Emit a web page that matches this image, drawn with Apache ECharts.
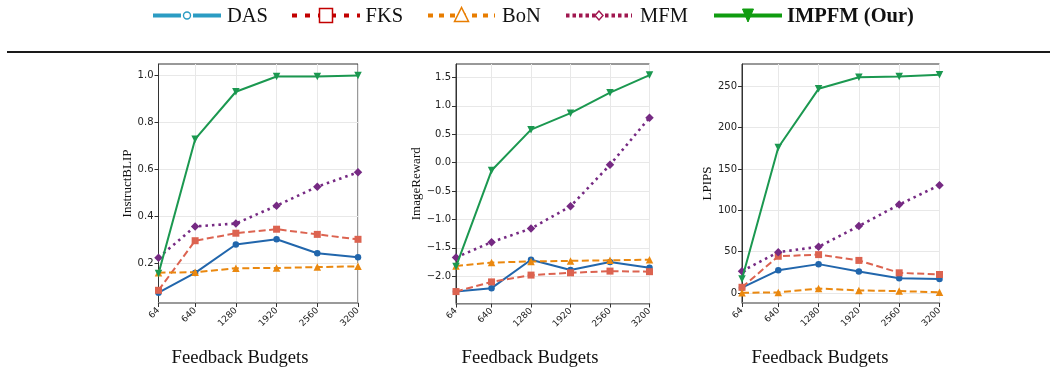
<!DOCTYPE html>
<html>
<head>
<meta charset="utf-8">
<script src="https://cdn.jsdelivr.net/npm/echarts@6/dist/echarts.min.js"></script>
<style>
html,body{margin:0;padding:0;background:#fff;}
#main{width:1057px;height:371px;}
</style>
</head>
<body>
<div id="main"></div>
<script>
// ---------- data ----------
var budgets = [64, 640, 1280, 1920, 2560, 3200];
var xTickLabels = ['64', '640', '1280', '1920', '2560', '3200'];
var methodNames = ['DAS', 'FKS', 'BoN', 'MFM', 'IMPFM (Our)'];
var metricNames = ['InstructBLIP', 'ImageReward', 'LPIPS'];

// InstructBLIP
var blipDAS   = [0.076, 0.160, 0.281, 0.303, 0.244, 0.227];
var blipFKS   = [0.086, 0.297, 0.329, 0.346, 0.324, 0.303];
var blipBoN   = [0.161, 0.163, 0.180, 0.181, 0.185, 0.188];
var blipMFM   = [0.225, 0.358, 0.370, 0.446, 0.527, 0.588];
var blipIMPFM = [0.157, 0.729, 0.931, 0.996, 0.996, 1.000];
var blipTicks = [0.2, 0.4, 0.6, 0.8, 1.0];

// ImageReward
var irDAS   = [-2.27, -2.21, -1.71, -1.89, -1.75, -1.85];
var irFKS   = [-2.27, -2.10, -1.98, -1.94, -1.91, -1.92];
var irBoN   = [-1.82, -1.76, -1.74, -1.73, -1.72, -1.71];
var irMFM   = [-1.67, -1.40, -1.16, -0.77, -0.04, 0.79];
var irIMPFM = [-1.83, -0.14, 0.58, 0.87, 1.23, 1.54];
var irTicks = [-2.0, -1.5, -1.0, -0.5, 0.0, 0.5, 1.0, 1.5];

// LPIPS
var lpDAS   = [6.5, 27.5, 35.0, 26.0, 18.0, 17.0];
var lpFKS   = [7.0, 44.5, 46.5, 39.5, 24.5, 22.5];
var lpBoN   = [0.4, 0.8, 5.5, 3.2, 2.4, 1.0];
var lpMFM   = [26.5, 49.5, 56.0, 81.0, 107.0, 130.5];
var lpIMPFM = [17.0, 176.0, 247.0, 261.0, 262.0, 264.0];
var lpTicks = [0, 50, 100, 150, 200, 250];

// ---------- styling ----------
var plotColors = ['#2166ac', '#dc6350', '#ea880f', '#762a83', '#1b9850'];
var legendColors = ['#2b9cc3', '#c20000', '#e87d00', '#a0174f', '#109c10'];
var symbols = ['circle', 'rect', 'triangle', 'diamond', 'triangle'];
var symbolSizes = [6.5, 7, 7.5, 8.5, 7.5];
var symbolRot = [0, 0, 0, 0, 180];
var dashes = ['solid', [7, 3.5], [7, 3.5], [2.5, 4], 'solid'];
var lineWidths = [2, 2, 2, 2.6, 2];

var panels = [
  {name: metricNames[0], series: [blipDAS, blipFKS, blipBoN, blipMFM, blipIMPFM], ticks: blipTicks,
   min: 0.032, max: 1.049, dec: 1, grid: {left: 158.5, right: 699, top: 64, bottom: 68}, nameGap: 24},
  {name: metricNames[1], series: [irDAS, irFKS, irBoN, irMFM, irIMPFM], ticks: irTicks,
   min: -2.48, max: 1.735, dec: 1, grid: {left: 456, right: 407.5, top: 64, bottom: 67.5}, nameGap: 25},
  {name: metricNames[2], series: [lpDAS, lpFKS, lpBoN, lpMFM, lpIMPFM], ticks: lpTicks,
   min: -12, max: 277, dec: 0, grid: {left: 742, right: 117.5, top: 64, bottom: 68}, nameGap: 21}
];

var grids = [], xAxes = [], yAxes = [], series = [];
var tickFont = 'DejaVu Sans';
panels.forEach(function (p, gi) {
  grids.push(Object.assign({show: true, borderColor: '#333', borderWidth: 1, backgroundColor: 'transparent'}, p.grid));
  xAxes.push({
    type: 'value', gridIndex: gi, min: 64, max: 3200,
    axisLine: {show: true, onZero: false, lineStyle: {color: '#9a9a9a', width: 1.6}},
    axisTick: {show: true, length: 4, lineStyle: {color: '#333', width: 1}, customValues: budgets},
    axisLabel: {customValues: budgets, rotate: 45, margin: 6, fontFamily: tickFont, fontSize: 9, color: '#222',
      formatter: function (v) { var i = budgets.indexOf(v); return i >= 0 ? xTickLabels[i] : ''; }},
    splitLine: {show: true, lineStyle: {color: '#e8e8e8', width: 1}}
  });
  yAxes.push({
    type: 'value', gridIndex: gi, min: p.min, max: p.max,
    name: p.name, nameLocation: 'middle', nameGap: p.nameGap,
    nameTextStyle: {fontFamily: 'Liberation Serif', fontSize: 13, color: '#111'},
    axisLine: {show: true, onZero: false, lineStyle: {color: '#333', width: 1}},
    axisTick: {show: true, length: 4, lineStyle: {color: '#333', width: 1}, customValues: p.ticks},
    axisLabel: {customValues: p.ticks, margin: 5, fontFamily: tickFont, fontSize: 10, color: '#222',
      formatter: function (v) { var s = Math.abs(v).toFixed(p.dec); return (v < -1e-9 ? '\u2212' : '') + s; }},
    splitLine: {show: true, lineStyle: {color: '#e8e8e8', width: 1}}
  });
  p.series.forEach(function (vals, si) {
    series.push({
      type: 'line', name: methodNames[si], xAxisIndex: gi, yAxisIndex: gi,
      data: budgets.map(function (b, k) { return [b, vals[k]]; }),
      symbol: symbols[si], symbolSize: symbolSizes[si], symbolRotate: symbolRot[si],
      showAllSymbol: true, clip: false, z: 2 + si, animation: false,
      lineStyle: {color: plotColors[si], width: lineWidths[si], type: dashes[si]},
      itemStyle: {color: plotColors[si], borderWidth: 0}
    });
  });
});

// ---------- legend & decorations (graphic) ----------
var graphics = [];
var legendY = 15.5;
var legendItems = [
  {x0: 153, x1: 221, tx: 227, marker: 'circle', dash: null, w: 4.2},
  {x0: 292, x1: 360, tx: 365.5, marker: 'rect', dash: [5, 8], w: 4.2},
  {x0: 428, x1: 495, tx: 502, marker: 'tri', dash: [5, 6], w: 4.2},
  {x0: 566, x1: 632, tx: 640, marker: 'diamond', dash: [3.5, 3], w: 4.2},
  {x0: 714, x1: 782, tx: 787, marker: 'downtri', dash: null, w: 4.2}
];
legendItems.forEach(function (it, i) {
  var c = legendColors[i];
  var cx = (it.x0 + it.x1) / 2;
  graphics.push({type: 'line', shape: {x1: it.x0, y1: legendY, x2: it.x1, y2: legendY},
    style: {stroke: c, lineWidth: it.w, lineDash: it.dash || null}, z: 10});
  var m;
  if (it.marker === 'circle') {
    m = {type: 'circle', shape: {cx: cx, cy: legendY, r: 3.5}, style: {fill: '#fff', stroke: c, lineWidth: 1.4}};
    graphics.push({type: 'rect', shape: {x: cx - 6, y: legendY - 4, width: 12, height: 8}, style: {fill: '#fff'}, z: 11});
  } else if (it.marker === 'rect') {
    m = {type: 'rect', shape: {x: cx - 6.5, y: legendY - 7, width: 13, height: 14}, style: {fill: '#fff', stroke: c, lineWidth: 1.5}};
  } else if (it.marker === 'tri') {
    m = {type: 'polygon', shape: {points: [[cx, legendY - 8], [cx - 7, legendY + 6], [cx + 7, legendY + 6]]}, style: {fill: '#fff', stroke: c, lineWidth: 1.5}};
  } else if (it.marker === 'diamond') {
    m = {type: 'polygon', shape: {points: [[cx, legendY - 4.5], [cx - 4, legendY], [cx, legendY + 4.5], [cx + 4, legendY]]}, style: {fill: '#fff', stroke: c, lineWidth: 1.4}};
  } else {
    m = {type: 'polygon', shape: {points: [[cx - 5.5, legendY - 6.5], [cx + 5.5, legendY - 6.5], [cx, legendY + 6.5]]}, style: {fill: c, stroke: c, lineWidth: 1}};
  }
  m.z = 12;
  graphics.push(m);
  graphics.push({type: 'text', x: it.tx, y: legendY + 1, z: 12,
    style: {text: methodNames[i], fill: '#111', fontFamily: 'Liberation Serif', fontSize: 20.5,
      fontWeight: i === 4 ? 'bold' : 'normal', align: 'left', verticalAlign: 'middle'}});
});
graphics.push({type: 'line', shape: {x1: 7, y1: 52, x2: 1050, y2: 52}, style: {stroke: '#1a1a1a', lineWidth: 2}});
[240, 530, 820].forEach(function (cx) {
  graphics.push({type: 'text', x: cx, y: 358, style: {text: 'Feedback Budgets', fill: '#111',
    fontFamily: 'Liberation Serif', fontSize: 18.6, align: 'center', verticalAlign: 'middle'}});
});

var chart = echarts.init(document.getElementById('main'), null, {renderer: 'canvas'});
chart.setOption({
  animation: false,
  backgroundColor: '#fff',
  grid: grids, xAxis: xAxes, yAxis: yAxes, series: series,
  graphic: graphics
});
</script>
</body>
</html>
